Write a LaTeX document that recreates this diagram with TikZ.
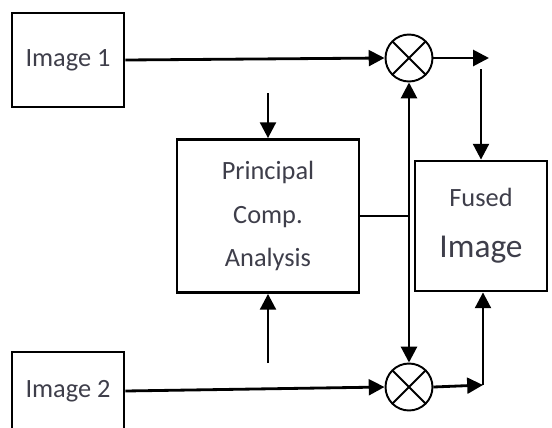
\documentclass[tikz,border=0pt]{standalone}
\usepackage{fontspec}
\setmainfont{Carlito}
\usepackage{xcolor}
\usepackage{tikz}
\usetikzlibrary{positioning}
\usetikzlibrary{arrows.meta}
\definecolor{txtgray}{RGB}{62,62,74}

\begin{document}
\begin{tikzpicture}[
    x=0.02cm, y=-0.02cm,
    line width=1.6pt,
    >={Triangle[length=9pt,width=9pt]},
    box/.style={rectangle, draw=black, line width=1.6pt, align=center, text=txtgray, font=\fontsize{15}{25}\selectfont},
    mult/.style={circle, draw=black, line width=1.1pt, minimum size=0.94cm, inner sep=0pt,
        path picture={\draw[line width=1.1pt] (path picture bounding box.north west) -- (path picture bounding box.south east)
                      (path picture bounding box.south west) -- (path picture bounding box.north east);}}
]
\path[use as bounding box, clip] (0,0) rectangle (552,427);

\node[box, minimum width=2.24cm, minimum height=1.88cm] (img1) at (68,60) {Image 1};
\node[box, minimum width=2.24cm, minimum height=1.56cm] (img2) at (68,391) {Image 2};
\node[box, minimum width=3.64cm, minimum height=3.06cm] (pca) at (268,216) {Principal\\Comp.\\Analysis};
\node[box, minimum width=2.64cm, minimum height=2.6cm] (fused) at (481,226) {Fused\\[4pt]{\fontsize{19}{22}\selectfont Image}};
\node[mult] (mul1) at (409,58) {};
\node[mult] (mul2) at (409,387) {};

\coordinate (o1) at (489,58);
\coordinate (f1) at (481,69);
\coordinate (o2) at (483,385);
\coordinate (p1) at (268,93);
\coordinate (p2) at (268,363);
\coordinate (j) at (409,216);

\draw[->] (img1.east) -- (mul1.west);
\draw[->] (mul1.east) -- (o1);
\draw[->] (f1) -- (fused.north);
\draw[->] (p1) -- (pca.north);
\draw[->] (p2) -- (pca.south);
\draw (pca.east) -- (j);
\draw[->] (j) -- (mul1.south);
\draw[->] (j) -- (mul2.north);
\draw[->] (img2.east) -- (mul2.west);
\draw[->] (mul2.east) -- (o2);
\draw[->] (o2) -- (o2 |- fused.south);
\end{tikzpicture}
\end{document}
